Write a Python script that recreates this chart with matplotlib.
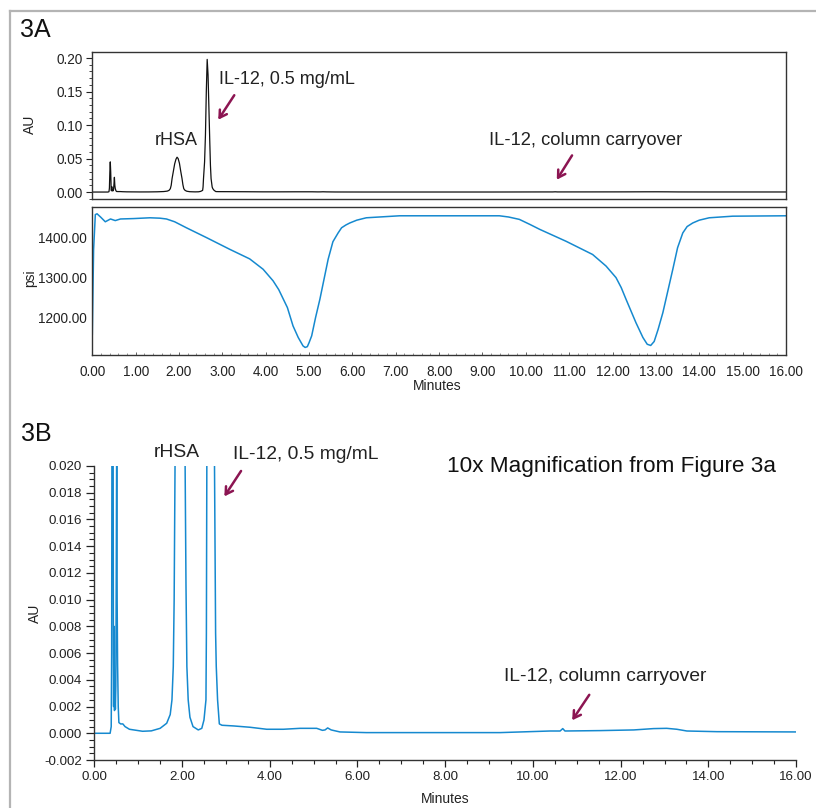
import numpy as np
import matplotlib.pyplot as plt
from matplotlib.lines import Line2D
from matplotlib.ticker import MultipleLocator, FormatStrFormatter

plt.rcParams['font.family'] = ['Liberation Sans', 'DejaVu Sans']

# UV absorbance trace (AU)
au_time = [0.00, 0.36, 0.385, 0.395, 0.405, 0.415, 0.425, 0.435, 0.44, 0.45,
           0.46, 0.47, 0.48, 0.49, 0.50, 0.51, 0.52, 0.53, 0.545, 0.56,
           0.60, 0.65, 0.70, 0.80, 0.90, 1.10, 1.30, 1.50, 1.65, 1.73,
           1.77, 1.80, 1.82, 1.84, 1.87, 1.90, 1.93, 1.955, 1.98, 2.01,
           2.04, 2.07, 2.09, 2.11, 2.14, 2.18, 2.25, 2.37, 2.45, 2.50,
           2.545, 2.555, 2.565, 2.59, 2.61, 2.63, 2.65, 2.67, 2.69, 2.71,
           2.725, 2.74, 2.765, 2.78, 2.81, 2.85, 2.91, 3.17, 3.55, 3.93,
           4.31, 4.69, 5.07, 5.20, 5.26, 5.32, 5.40, 5.60, 6.20, 7.00,
           9.25, 10.39, 10.62, 10.68, 10.73, 11.53, 12.30, 12.75, 13.05, 13.28,
           13.51, 14.20, 16.00]
au_value = [0.0, 0.0, 0.0005, 0.006, 0.030, 0.045, 0.030, 0.006, 0.0020, 0.0080,
            0.0017, 0.0030, 0.0018, 0.0035, 0.012, 0.022, 0.010, 0.0052, 0.0020, 0.0008,
            0.0007, 0.0007, 0.0005, 0.0003, 0.00025, 0.00015, 0.00018, 0.00037, 0.00075, 0.0014,
            0.0025, 0.0050, 0.0100, 0.0200, 0.0310, 0.0420, 0.0490, 0.0520, 0.0500, 0.0430,
            0.0310, 0.0200, 0.0110, 0.0050, 0.0025, 0.0012, 0.0005, 0.00025, 0.00037, 0.0010,
            0.0025, 0.0075, 0.020, 0.045, 0.085, 0.150, 0.198, 0.175, 0.125, 0.075,
            0.040, 0.020, 0.0075, 0.0050, 0.0025, 0.0007, 0.0006, 0.00055, 0.00045, 0.0003,
            0.0003, 0.00037, 0.00037, 0.00022, 0.00025, 0.0004, 0.00025, 0.0001, 0.00005, 0.00005,
            0.00005, 0.00017, 0.00017, 0.00035, 0.00017, 0.0002, 0.00025, 0.00035, 0.00037, 0.0003,
            0.00017, 0.00012, 0.0001]

# system pressure trace (psi)
psi_time = [0.00, 0.03, 0.07, 0.11, 0.19, 0.30, 0.42, 0.53, 0.65, 0.95,
            1.33, 1.56, 1.71, 1.90, 2.17, 2.64, 3.17, 3.63, 3.94, 4.17,
            4.30, 4.50, 4.63, 4.75, 4.86, 4.91, 4.96, 5.00, 5.06, 5.15,
            5.25, 5.44, 5.55, 5.67, 5.75, 5.85, 5.94, 6.10, 6.32, 7.09,
            9.39, 9.60, 9.85, 10.10, 10.32, 10.93, 11.54, 11.85, 12.08, 12.20,
            12.31, 12.54, 12.70, 12.80, 12.88, 12.96, 13.05, 13.16, 13.39, 13.50,
            13.62, 13.72, 13.85, 14.00, 14.23, 14.77, 16.00]
psi_value = [1158, 1370, 1458, 1460, 1452, 1440, 1447, 1443, 1447, 1448,
             1450, 1449, 1447, 1440, 1425, 1400, 1371, 1347, 1321, 1292,
             1270, 1225, 1179, 1150, 1129, 1125, 1127, 1137, 1154, 1200,
             1246, 1346, 1390, 1412, 1425, 1432, 1437, 1444, 1450, 1455,
             1455, 1452, 1446, 1433, 1421, 1391, 1358, 1329, 1300, 1275,
             1246, 1187, 1150, 1133, 1130, 1140, 1170, 1212, 1321, 1375,
             1412, 1428, 1437, 1444, 1450, 1454, 1455]

black_au = '#111111'
blue = '#1589cf'
arrow_col = '#8c1552'
txt = '#222222'

fig = plt.figure(figsize=(8.16, 8.08), dpi=100)

# outer grey frame (top and left edges)
fig.add_artist(Line2D([10/816, 1.0], [1-11/808, 1-11/808], color='#b4b4b4', lw=1.6))
fig.add_artist(Line2D([10/816, 10/816], [0.0, 1-11/808], color='#b4b4b4', lw=1.6))

axA = fig.add_axes([0.1131, 0.7537, 0.8501, 0.1819])
axP = fig.add_axes([0.1131, 0.5606, 0.8501, 0.1832])
axB = fig.add_axes([0.1156, 0.0594, 0.8600, 0.3639])

for ax in (axA, axP):
    for s in ax.spines.values():
        s.set_color('#333333')
        s.set_linewidth(1.0)

arrow = dict(arrowstyle='->,head_length=0.5,head_width=0.3', color=arrow_col, lw=1.8)

# --- 3A absorbance
axA.plot(au_time, au_value, color=black_au, lw=0.9)
axA.set_xlim(0, 16)
axA.set_ylim(-0.0104, 0.209)
axA.yaxis.set_major_locator(MultipleLocator(0.05))
axA.yaxis.set_minor_locator(MultipleLocator(0.01))
axA.yaxis.set_major_formatter(FormatStrFormatter('%.2f'))
axA.tick_params(axis='y', which='major', length=4, width=0.8, pad=3, labelsize=9.8, colors=txt)
axA.tick_params(axis='y', which='minor', length=2, width=0.6, colors=txt)
axA.tick_params(axis='x', which='both', bottom=False, labelbottom=False)
axA.set_ylabel('AU', fontsize=10, color=txt)
axA.yaxis.set_label_coords(-0.08, 0.51)

axA.text(1.93, 0.0776, 'rHSA', fontsize=13, color=txt, ha='center', va='center')
axA.text(2.92, 0.1676, 'IL-12, 0.5 mg/mL', fontsize=13, color=txt, ha='left', va='center')
axA.text(9.16, 0.0776, 'IL-12, column carryover', fontsize=13.2, color=txt, ha='left', va='center')
axA.annotate('', xy=(2.87, 0.1045), xytext=(3.31, 0.148), arrowprops=arrow)
axA.annotate('', xy=(10.68, 0.0149), xytext=(11.10, 0.0582), arrowprops=arrow)

# --- 3A pressure
axP.plot(psi_time, psi_value, color=blue, lw=1.1)
axP.set_xlim(0, 16)
axP.set_ylim(1106, 1477)
axP.yaxis.set_major_locator(MultipleLocator(100))
axP.yaxis.set_major_formatter(FormatStrFormatter('%.2f'))
axP.xaxis.set_major_locator(MultipleLocator(1))
axP.xaxis.set_minor_locator(MultipleLocator(0.2))
axP.xaxis.set_major_formatter(FormatStrFormatter('%.2f'))
axP.tick_params(axis='y', length=0, pad=4, labelsize=9.8, colors=txt)
axP.tick_params(axis='x', which='major', direction='in', length=2, width=0.5, pad=7, labelsize=9.8, colors=txt)
axP.tick_params(axis='x', which='minor', direction='in', length=1.5, width=0.5, colors='#666666')
axP.set_ylabel('psi', fontsize=10, color=txt)
axP.yaxis.set_label_coords(-0.08, 0.52)
axP.set_xlabel('Minutes', fontsize=10, color=txt)
axP.xaxis.set_label_coords(0.497, -0.165)

# --- 3B magnified absorbance
axB.plot(au_time, au_value, color=blue, lw=1.1)
axB.set_xlim(0, 16)
axB.set_ylim(-0.002, 0.020)
for side in ('top', 'right'):
    axB.spines[side].set_visible(False)
for side in ('left', 'bottom'):
    axB.spines[side].set_color('#333333')
    axB.spines[side].set_linewidth(1.0)
axB.xaxis.set_major_locator(MultipleLocator(2))
axB.xaxis.set_minor_locator(MultipleLocator(0.5))
axB.xaxis.set_major_formatter(FormatStrFormatter('%.2f'))
axB.yaxis.set_major_locator(MultipleLocator(0.002))
axB.yaxis.set_minor_locator(MultipleLocator(0.0005))
axB.yaxis.set_major_formatter(FormatStrFormatter('%.3f'))
axB.tick_params(axis='both', which='major', length=6, width=0.9, pad=3, labelsize=9.6, colors=txt)
axB.tick_params(axis='both', which='minor', length=3.5, width=0.8, colors=txt)
axB.tick_params(axis='x', which='major', length=5)
axB.tick_params(axis='x', which='minor', length=3)
axB.set_ylabel('AU', fontsize=10, color=txt)
axB.yaxis.set_label_coords(-0.075, 0.50)
axB.set_xlabel('Minutes', fontsize=10, color=txt)
axB.xaxis.set_label_coords(0.4996, -0.108)

axB.text(1.88, 0.0210, 'rHSA', fontsize=13.9, color=txt, ha='center', va='center')
axB.text(3.17, 0.02087, 'IL-12, 0.5 mg/mL', fontsize=13.9, color=txt, ha='left', va='center')
axB.text(8.03, 0.01995, '10x Magnification from Figure 3a', fontsize=16.2, color='#111111',
         ha='left', va='center')
axB.text(9.33, 0.00425, 'IL-12, column carryover', fontsize=13.9, color=txt, ha='left', va='center')
axB.annotate('', xy=(2.93, 0.01755), xytext=(3.38, 0.0198), arrowprops=arrow,
             annotation_clip=False)
axB.annotate('', xy=(10.86, 0.0008), xytext=(11.32, 0.00305), arrowprops=arrow)

fig.text(20/816, 1-30/808, '3A', fontsize=18, color='#111111', ha='left', va='center')
fig.text(21/816, 1-434/808, '3B', fontsize=18, color='#111111', ha='left', va='center')

fig.savefig('out.png', dpi=100)
